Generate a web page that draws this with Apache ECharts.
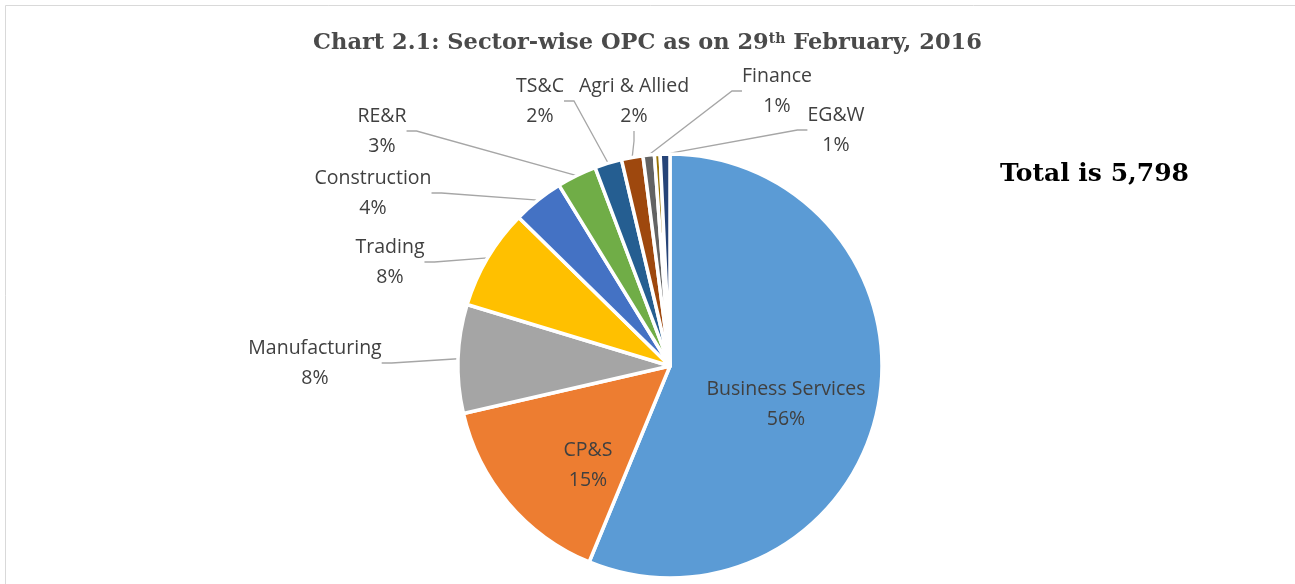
<!DOCTYPE html>
<html>
<head>
<meta charset="utf-8">
<script src="https://cdn.jsdelivr.net/npm/echarts@6/dist/echarts.min.js"></script>
<style>
  html, body { margin: 0; padding: 0; background: #fff; }
  #echarts { width: 1295px; height: 584px; }
</style>
</head>
<body>
<div id="echarts"></div>
<script>
// 数据
const sectors = ['Business Services', 'CP&S', 'Manufacturing', 'Trading', 'Construction',
    'RE&R', 'TS&C', 'Agri & Allied', 'Finance', 'Others', 'EG&W'];
const counts = [3260, 880, 480, 445, 225, 175, 120, 95, 50, 25, 43];
const colors = ['#5B9BD5', '#ED7D31', '#A5A5A5', '#FFC000', '#4472C4', '#70AD47',
    '#255E91', '#9E480E', '#636363', '#997300', '#264478'];
const total = counts.reduce((a, b) => a + b, 0);

// 标签位置（Excel 里是手动摆放的）
const labelPos = {
    'Business Services': [786, 404],
    'CP&S': [588, 465],
    'TS&C': [540, 101],
    'Agri & Allied': [634, 101],
    'Finance': [777, 91],
    'EG&W': [836, 130],
    'RE&R': [382, 131],
    'Construction': [373, 193],
    'Trading': [390, 262],
    'Manufacturing': [315, 363]
};
const insideLabels = ['Business Services', 'CP&S'];

const chartDom = document.getElementById('echarts');
const myChart = echarts.init(chartDom);

let data = sectors.map((name, i) => {
    let item = { name: name, value: counts[i], itemStyle: { color: colors[i] } };
    if (insideLabels.indexOf(name) >= 0) {
        item.label = { position: 'inside' };
        item.labelLine = { show: false };
    }
    if (name === 'Others') {
        item.label = { show: false };
        item.labelLine = { show: false };
    }
    return item;
});

let option = {
    animation: false,
    backgroundColor: '#fff',
    title: {
        text: 'Chart 2.1: Sector-wise OPC as on 29{sup|th} February, 2016',
        left: 'center',
        top: 27,
        textStyle: {
            fontFamily: 'DejaVu Serif',
            fontWeight: 'bold',
            fontSize: 22.5,
            color: '#4a4a4a',
            rich: {
                sup: {
                    fontFamily: 'DejaVu Serif',
                    fontWeight: 'bold',
                    fontSize: 14,
                    color: '#4a4a4a',
                    verticalAlign: 'top',
                    padding: [0, 0, 9, 0]
                }
            }
        }
    },
    graphic: [
        {
            type: 'rect',
            shape: { x: 5.5, y: 5.5, width: 1300, height: 600 },
            style: { fill: 'none', stroke: '#d9d9d9', lineWidth: 1 },
            silent: true
        },
        {
            type: 'text',
            left: 1000,
            top: 162,
            style: {
                text: 'Total is 5,798',
                font: 'bold 25px "DejaVu Serif"',
                fill: '#000'
            }
        }
    ],
    series: [
        {
            type: 'pie',
            center: [670, 366],
            radius: 212,
            startAngle: 90,
            clockwise: true,
            avoidLabelOverlap: false,
            data: data,
            itemStyle: {
                borderColor: '#fff',
                borderWidth: 3.5
            },
            label: {
                show: true,
                position: 'outside',
                fontFamily: 'Open Sans',
                fontSize: 19.5,
                lineHeight: 30,
                color: '#404040',
                align: 'center',
                formatter: (params) => {
                    return params.name + '\n' + Math.round(params.value / total * 100) + '%';
                }
            },
            labelLine: {
                show: true,
                length: 10,
                length2: 10,
                lineStyle: { color: '#A6A6A6', width: 1.3 }
            },
            labelLayout: (params) => {
                const name = sectors[params.dataIndex];
                const p = labelPos[name];
                if (!p) return {};
                return { x: p[0], y: p[1], align: 'center', verticalAlign: 'middle' };
            }
        }
    ]
};
option && myChart.setOption(option);
</script>
</body>
</html>
